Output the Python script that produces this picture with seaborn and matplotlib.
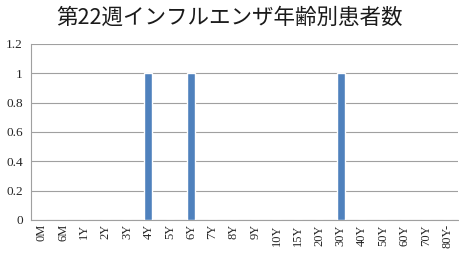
import matplotlib
matplotlib.use("Agg")
import matplotlib.pyplot as plt
import seaborn as sns
import pandas as pd

categories = ["0M", "6M", "1Y", "2Y", "3Y", "4Y", "5Y", "6Y", "7Y", "8Y", "9Y",
              "10Y", "15Y", "20Y", "30Y", "40Y", "50Y", "60Y", "70Y", "80Y-"]
values = [0, 0, 0, 0, 0, 1, 0, 1, 0, 0, 0, 0, 0, 0, 1, 0, 0, 0, 0, 0]
yticks = [0, 0.2, 0.4, 0.6, 0.8, 1, 1.2]
ytick_labels = ["0", "0.2", "0.4", "0.6", "0.8", "1", "1.2"]
title = "第22週インフルエンザ年齢別患者数"

df = pd.DataFrame({"cat": categories, "val": values})

sns.set_style("white")
plt.rcParams["font.family"] = ["Liberation Serif", "DejaVu Serif"]

fig = plt.figure(figsize=(4.6, 2.58), dpi=100)
ax = fig.add_axes([31 / 460, 1 - 220 / 258, (458 - 31) / 460, (220 - 44) / 258])

sns.barplot(data=df, x="cat", y="val", color="#4F81BD", saturation=1,
            width=0.38, ax=ax, zorder=3)

ax.set_ylim(0, 1.2)
ax.set_xlim(-0.5, len(categories) - 0.5)
ax.set_yticks(yticks)
ax.set_yticklabels(ytick_labels, fontsize=9.5)
ax.yaxis.grid(True, color="#A0A0A0", linewidth=0.8, zorder=0)
ax.set_axisbelow(True)

ax.set_xticks(range(len(categories)))
ax.set_xticklabels(categories, rotation=90, fontsize=9, va="top", ha="center")
ax.tick_params(axis="x", length=0, pad=3)
# boundary tick marks
ax.set_xticks([i - 0.5 for i in range(len(categories) + 1)], minor=True)
ax.tick_params(axis="x", which="minor", length=4, color="#A0A0A0", width=0.8)
ax.tick_params(axis="y", length=4, color="#A0A0A0", width=0.8, pad=2)

ax.set_xlabel("")
ax.set_ylabel("")
for s in ["top", "right"]:
    ax.spines[s].set_visible(False)
for s in ["left", "bottom"]:
    ax.spines[s].set_color("#A0A0A0")
    ax.spines[s].set_linewidth(0.8)

fig.text(0.5, 1 - 18 / 258, title, ha="center", va="center", fontsize=15.5,
         color="#1a1a1a", family=["Noto Sans CJK JP", "DejaVu Sans"])

fig.savefig("out.png", dpi=100)
